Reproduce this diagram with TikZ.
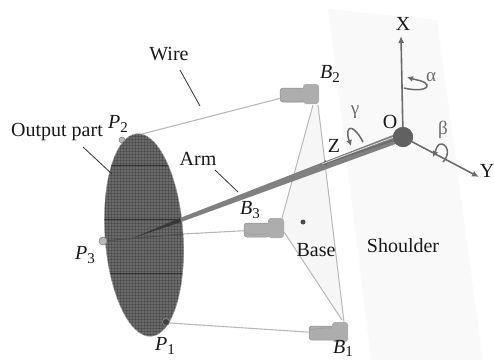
\documentclass[tikz,border=0pt]{standalone}
\usepackage{fontspec}
\setmainfont{Liberation Serif}
\usetikzlibrary{shapes.geometric,arrows.meta}
\definecolor{wirec}{gray}{0.72}
\definecolor{basec}{gray}{0.965}
\definecolor{shc}{gray}{0.975}
\definecolor{axisc}{gray}{0.42}
\definecolor{greyt}{gray}{0.42}
\definecolor{motorc}{gray}{0.68}
\definecolor{collarc}{gray}{0.68}
\definecolor{discc}{gray}{0.42}
\newcommand{\subl}[2]{\textit{#1}\raisebox{-3.5pt}{\fontsize{15}{15}\selectfont #2}}
\tikzset{
  lab/.style={font=\fontsize{20}{22}\selectfont,text=black!90,inner sep=0pt},
  glab/.style={font=\fontsize{19}{22}\selectfont,text=greyt,inner sep=0pt},
  wire/.style={draw=wirec,line width=1.1pt},
  baseedge/.style={draw=wirec,line width=1pt},
  leader/.style={draw=black!80,line width=0.8pt},
  ax/.style={draw=axisc,line width=1.6pt,-{Latex[length=7pt,width=6pt]}},
  rot/.style={draw=axisc,line width=1.5pt,-{Latex[length=6pt,width=6pt]}},
  motor/.style={draw=gray!90,fill=motorc,rounded corners=3pt,line width=.5pt,inner sep=0pt,minimum width=26pt,minimum height=14pt},
  collar/.style={draw=none,fill=collarc,rounded corners=3pt,inner sep=0pt,minimum width=16pt,minimum height=20pt},
  anch/.style={circle,draw=gray,fill=gray!55,line width=.6pt,inner sep=0pt,minimum size=6pt},
}
\begin{document}
\begin{tikzpicture}[x=1pt,y=-1pt]
\useasboundingbox (0,0) rectangle (494,360);
% shoulder
\fill[shc] (328,9) -- (437,20) -- (483,360) -- (371,360) -- cycle;
% base
\coordinate (b1c) at (344,322);
\coordinate (b1d) at (342,320);
\coordinate (b2c) at (313,105);
\coordinate (b2d) at (318,105);
\coordinate (b3c) at (284,232);
\coordinate (b3t) at (282,218);
\fill[basec] (b2c) -- (b2d) -- (b1c) -- (b1d) -- (b3c) -- (b3t) -- cycle;
\draw[baseedge] (b2d) -- (b1c);
\draw[baseedge] (b2c) -- (b3t);
\draw[baseedge] (b3c) -- (b1d);
\node[circle,fill=black!70,inner sep=0pt,minimum size=5pt] (bdot) at (303,222) {};
% motors
\node[motor] (m2) at (293,95) {};
\node[collar] (c2) at (311,94) {};
\node[motor] (m3) at (257,230) {};
\node[collar] (c3) at (276,228) {};
\node[motor] (m1) at (322,333) {};
\node[collar] (c1) at (340,332) {};
\draw[gray!75,line width=.7pt] (282,100) .. controls (290,103) and (298,102) .. (304,100);
\draw[gray!75,line width=.7pt] (246,233) .. controls (254,236) and (262,235) .. (268,233);
\draw[gray!75,line width=.7pt] (310,330) .. controls (318,328) and (326,328) .. (332,328);
% P2 anchor sits behind the disc edge
\node[anch] (p2) at (122,140) {};
\coordinate (w2) at (142,134);
\coordinate (w3) at (183,234);
\coordinate (w1) at (170,323);
\draw[wire] (w2) -- (m2);
\draw[wire] (w3) -- (m3);
\draw[wire] (w1) -- (m1);
% disc
\node[ellipse,fill=discc,draw=gray!70,line width=.6pt,minimum width=78pt,minimum height=203pt,inner sep=0pt,rotate=4] (disc) at (144,235) {};
\begin{scope}
  \clip[rotate around={4:(144,235)}] (144,235) ellipse [x radius=39,y radius=101.5];
  \foreach \k in {-48,-45,...,48}{\draw[black!80,line width=.3pt,opacity=.35] (144+\k,120) -- (144+\k,350);}
  \foreach \k in {-114,-111,...,114}{\draw[black!80,line width=.3pt,opacity=.35] (90,235+\k) -- (200,235+\k);}
  \foreach \k in {165,219,273}{\draw[black!80,line width=.6pt] (90,\k) -- (200,\k);}
\end{scope}
% anchors on disc
\node[anch,minimum size=8pt] (p3) at (103,241) {};
\node[anch,draw=gray!90,fill=black!75,minimum size=7pt] (p1) at (166,322) {};
\draw[black!70,line width=1pt] (p3) -- (w3);
% axes
\node[circle,fill=black!62,inner sep=0pt,minimum size=20pt] (O) at (403,137) {};
\coordinate (xend) at (401,36);
\coordinate (yend) at (479,177);
\coordinate (zend) at (320,165);
\draw[ax] (O) -- (xend);
\draw[ax] (O) -- (yend);
% arm
\coordinate (armend) at (133,238);
\fill[black!50] (398,133) -- (401,142) -- (181,222) -- (180,218) -- cycle;
\fill[black!78] (180,218) -- (181,222) -- (armend) -- cycle;
\draw[ax] (O) -- (zend);
\draw[white!80!gray,line width=.7pt] (394,137) -- (322,164);
\node[circle,fill=black!62,inner sep=0pt,minimum size=20pt] at (O) {};
% rotation arrows
\draw[rot] (404,88) .. controls (416,91) and (428,90) .. (427,85) .. controls (426,81) and (416,80) .. (407,77);
\draw[rot] (363,142) .. controls (358,132) and (350,124) .. (348,131) .. controls (347,136) and (349,140) .. (351,146);
\draw[rot] (443,162) .. controls (449,156) and (449,146) .. (442,144) .. controls (437,143) and (436,150) .. (433,157);
% labels
\node[lab] (xl) at (403,24) {X};
\node[lab] (yl) at (487,171) {Y};
\node[lab] (zl) at (334,146) {Z};
\node[lab] (ol) at (390,122) {O};
\node[glab] (al) at (431,77) {α};
\node[glab] (bl) at (443,130) {β};
\node[glab] (gl) at (355,112) {γ};
\node[lab] (sh) at (403,246) {Shoulder};
\node[lab] (ba) at (316,250) {Base};
\node[lab] (wl) at (169,54) {Wire};
\node[lab] (op) at (57,132) {Output part};
\node[lab] (arm) at (198,159) {Arm};
\node[lab] (B2) at (330,74) {\subl{B}{2}};
\node[lab] (B3) at (250,210) {\subl{B}{3}};
\node[lab] (B1) at (343,348.5) {\subl{B}{1}};
\node[lab] (P2) at (118,124) {\subl{P}{2}};
\node[lab] (P3) at (85,255) {\subl{P}{3}};
\node[lab] (P1) at (165,346) {\subl{P}{1}};
% leaders
\coordinate (lw) at (180,70);
\coordinate (lwe) at (200,106);
\coordinate (lo) at (83,147);
\coordinate (loe) at (112,174);
\coordinate (la) at (215,170);
\coordinate (lae) at (238,192);
\draw[leader] (lw) -- (lwe);
\draw[leader] (lo) -- (loe);
\draw[leader] (la) -- (lae);
\end{tikzpicture}
\end{document}
